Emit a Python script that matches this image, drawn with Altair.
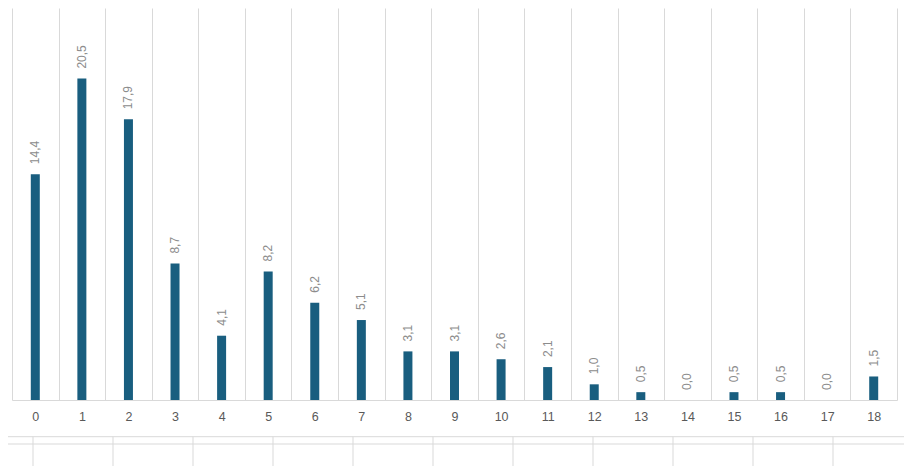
import altair as alt
import pandas as pd

categories = [str(i) for i in range(19)]
values = [14.4, 20.5, 17.9, 8.7, 4.1, 8.2, 6.2, 5.1, 3.1, 3.1, 2.6, 2.1, 1.0, 0.5, 0.0, 0.5, 0.5, 0.0, 1.5]
labels = [f"{v:.1f}".replace(".", ",") for v in values]

df = pd.DataFrame({"cat": categories, "val": values, "lab": labels})

W, H = 885, 392
x_enc = alt.X("cat:N", sort=categories, title=None,
              scale=alt.Scale(paddingInner=0, paddingOuter=0),
              axis=alt.Axis(labelAngle=0, ticks=False, grid=True, tickBand="extent",
                            gridColor="#d9d9d9", gridWidth=1,
                            domainColor="#d9d9d9", domainWidth=1,
                            labelColor="#595959", labelFontSize=12.5,
                            labelFont="Liberation Sans", labelPadding=10))
y_enc = alt.Y("val:Q", title=None, scale=alt.Scale(domain=[0, 25], nice=False),
              axis=None)

base = alt.Chart(df)
bars = base.mark_bar(size=9, color="#195e7f").encode(x=x_enc, y=y_enc)
text = base.mark_text(angle=270, align="left", baseline="middle", dx=10,
                      fontSize=12, color="#8c8c8c", font="Liberation Sans").encode(
    x=alt.X("cat:N", sort=categories), y=alt.Y("val:Q"), text="lab:N")

one = alt.Data(values=[{}])
layers = [bars, text]
for yv in [428.7, 436]:
    layers.append(alt.Chart(one).mark_rule(color="#d9d9d9", strokeWidth=1).encode(
        x=alt.value(-4), x2=alt.value(892), y=alt.value(yv)))
for k in range(11):
    layers.append(alt.Chart(one).mark_rule(color="#d9d9d9", strokeWidth=1).encode(
        x=alt.value(21 + 80 * k), y=alt.value(428.7), y2=alt.value(460)))

chart = alt.layer(*layers).properties(
    width=W, height=H,
    autosize=alt.AutoSizeParams(type="none"),
    padding={"left": 4, "top": 0, "right": 7, "bottom": 66},
).configure_view(stroke=None)

chart.save("out.html", embed_options={"renderer": "svg", "actions": False})
